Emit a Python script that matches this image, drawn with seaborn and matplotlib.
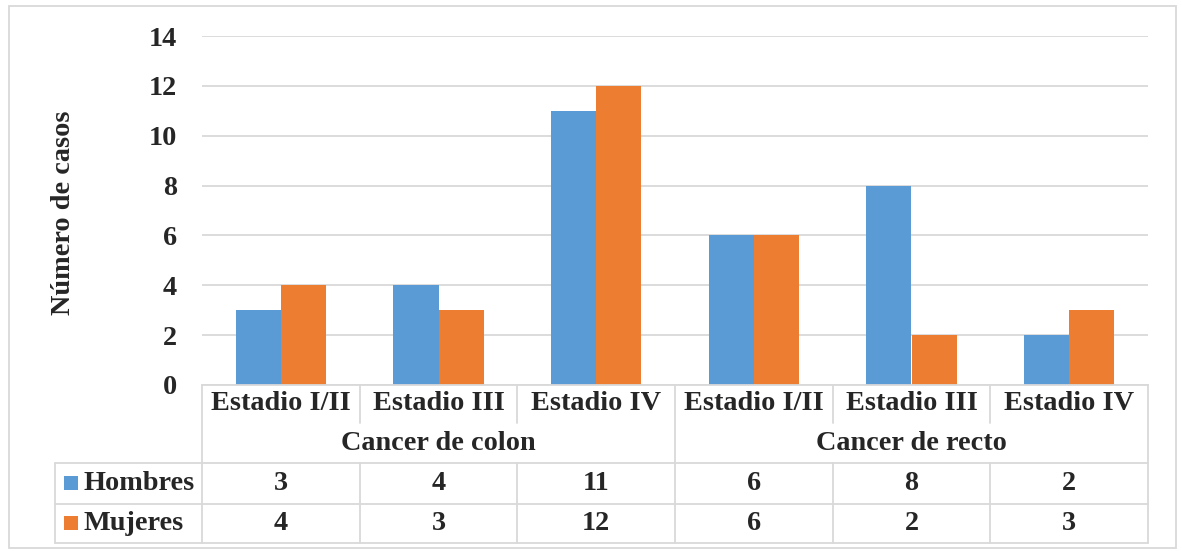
import matplotlib
matplotlib.use("Agg")
import matplotlib.pyplot as plt
import matplotlib.transforms as mtransforms
from matplotlib.lines import Line2D
from matplotlib.patches import Rectangle
import seaborn as sns
import pandas as pd

# Data
groups = ["Cancer de colon", "Cancer de recto"]
stages = ["Estadio I/II", "Estadio III", "Estadio IV"]
series = ["Hombres", "Mujeres"]
hombres = [3, 4, 11, 6, 8, 2]
mujeres = [4, 3, 12, 6, 2, 3]
yticks = [0, 2, 4, 6, 8, 10, 12, 14]

colors = {"Hombres": "#5B9BD5", "Mujeres": "#ED7D31"}
line_c = "#D9D9D9"

cats = [f"{g}|{s}" for g in groups for s in stages]
rows = []
for name, vals in zip(series, [hombres, mujeres]):
    for c, v in zip(cats, vals):
        rows.append({"cat": c, "serie": name, "casos": v})
df = pd.DataFrame(rows)

sns.set_theme(style="white")
plt.rcParams["font.family"] = ["Liberation Serif", "DejaVu Serif"]
plt.rcParams["font.weight"] = "bold"
FS = 20.3

W, H = 1182, 551
fig = plt.figure(figsize=(W / 100, H / 100), dpi=100)
ax = fig.add_axes([202 / W, 1 - 385 / H, 946 / W, 349 / H])

sns.barplot(data=df, x="cat", y="casos", hue="serie", order=cats,
            hue_order=series, palette=colors, width=0.571, gap=0,
            saturation=1, edgecolor="none", legend=False, ax=ax)

ax.set_xlim(-0.5, len(cats) - 0.5)
ax.set_ylim(0, 14)
ax.set_yticks(yticks)
ax.set_yticklabels([str(t) for t in yticks], fontsize=FS, fontweight="bold")
ax.set_xticks([])
ax.set_xlabel("")
ax.set_ylabel("")
ax.tick_params(axis="y", length=0, pad=18)
ax.yaxis.grid(True, color=line_c, linewidth=1.3)
ax.set_axisbelow(True)
for s in ["top", "right", "left"]:
    ax.spines[s].set_visible(False)
ax.spines["bottom"].set_color(line_c)
ax.spines["bottom"].set_linewidth(1.3)

fig.text(63 / W, 1 - 213 / H, "Número de casos", rotation=90, ha="center",
         va="center", fontsize=FS, fontweight="bold")

# Data table under the axis
bt = mtransforms.blended_transform_factory(ax.transData, fig.transFigure)


def fy(py):
    return 1 - py / H


def vline(x, y0, y1, transform=bt):
    fig.add_artist(Line2D([x, x], [fy(y0), fy(y1)], transform=transform,
                          color=line_c, linewidth=1.3))


def hline(x0, y):
    fig.add_artist(Line2D([x0 / W, 1148 / W], [fy(y), fy(y)],
                          transform=fig.transFigure, color=line_c,
                          linewidth=1.3))


n = len(cats)
for b in [-0.5, 2.5, n - 0.5]:
    vline(b, 385, 543)
for b in [0.5, 1.5, 3.5, 4.5]:
    vline(b, 385, 423)
    vline(b, 463, 543)
vline(55 / W, 463, 543, transform=fig.transFigure)
for y in [463, 504, 543]:
    hline(55, y)

for i, c in enumerate(cats):
    stage = c.split("|")[1]
    fig.text(i, fy(404), stage, transform=bt, ha="center", va="center",
             fontsize=FS, fontweight="bold")
for gi, g in enumerate(groups):
    fig.text(gi * 3 + 1, fy(443), g, transform=bt, ha="center",
             va="center", fontsize=FS, fontweight="bold")

for name, vals, yc in zip(series, [hombres, mujeres], [483, 523]):
    fig.add_artist(Rectangle((64 / W, fy(yc + 7)), 14 / W, 14 / H,
                             transform=fig.transFigure,
                             facecolor=colors[name], edgecolor="none"))
    fig.text(84 / W, fy(yc), name, ha="left", va="center", fontsize=FS,
             fontweight="bold")
    for i, v in enumerate(vals):
        fig.text(i, fy(yc), str(v), transform=bt, ha="center", va="center",
                 fontsize=FS, fontweight="bold")

# Chart frame
fig.add_artist(Rectangle((9 / W, fy(548)), (1176 - 9) / W, (548 - 6) / H,
                         transform=fig.transFigure, facecolor="none",
                         edgecolor=line_c, linewidth=1.3))

fig.savefig("out.png", dpi=100)
